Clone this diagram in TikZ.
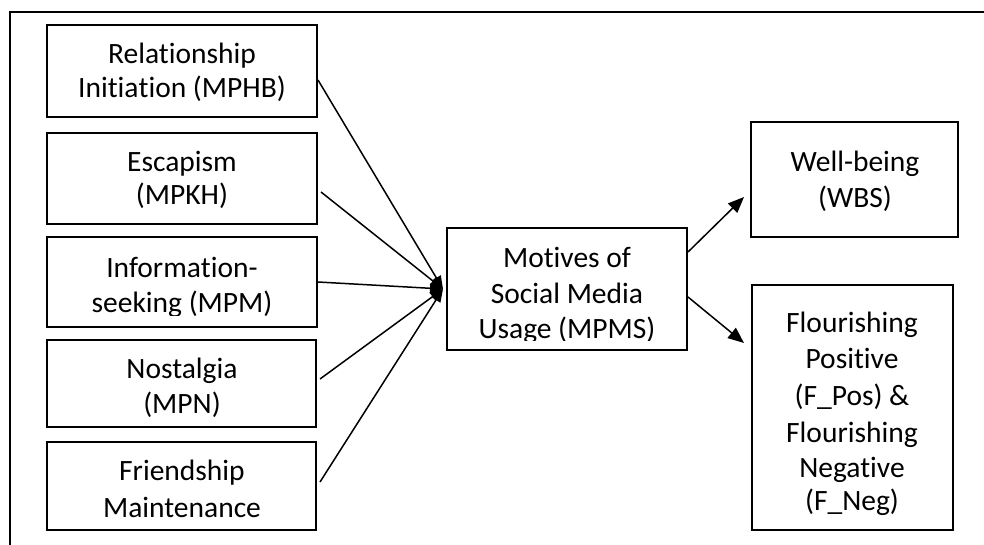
\documentclass[tikz,border=0pt]{standalone}
\usepackage{fontspec}
\setmainfont[RawFeature={-liga;-clig;-dlig;-calt}]{Carlito}
\usetikzlibrary{arrows.meta}
\newcommand{\nolig}{\kern0pt }
\begin{document}
\begin{tikzpicture}[x=1pt,y=-1pt,
  boxnode/.style={draw=black,line width=2pt,rectangle,inner sep=0pt},
  txt/.style={anchor=base,inner sep=0pt,font=\fontsize{29.5}{35}\selectfont},
  inarrow/.style={line width=1.5pt,-{Triangle[length=13pt,width=10pt]}},
  outarrow/.style={line width=1.5pt,-{Triangle[length=16pt,width=13pt]}},
  frameline/.style={line width=2.5pt}]
\useasboundingbox (0,0) rectangle (984,545);
% frame
\coordinate (fr1) at (984,12);
\coordinate (fr2) at (10,12);
\coordinate (fr3) at (10,545);
\draw[frameline] (fr1) -- (fr2) -- (fr3);
% boxes
\node[boxnode,minimum width=270pt,minimum height=92pt] (b1) at (182,71) {};
\node[boxnode,minimum width=270pt,minimum height=91pt] (b2) at (182,178.5) {};
\node[boxnode,minimum width=270pt,minimum height=90pt] (b3) at (182,282) {};
\node[boxnode,minimum width=269pt,minimum height=87pt] (b4) at (181.5,383.5) {};
\node[boxnode,minimum width=269pt,minimum height=88pt] (b5) at (181.5,486) {};
\node[boxnode,minimum width=240pt,minimum height=122pt] (c) at (567,289) {};
\node[boxnode,minimum width=207pt,minimum height=115pt] (wb) at (854.5,179.5) {};
\node[boxnode,minimum width=201pt,minimum height=245pt] (fl) at (852.5,407.5) {};
% texts
\node[txt] (t1a) at (182,64) {Relationship};
\node[txt] (t1b) at (182,98) {Init\nolig ia\nolig t\nolig ion (MPHB)};
\node[txt] (t2a) at (182,172) {Escapism};
\node[txt] (t2b) at (182,205) {(MPKH)};
\node[txt] (t3a) at (182,277) {Informa\nolig t\nolig ion-};
\begin{scope}
\clip (47,237) rectangle (317,315);
\node[txt] (t3b) at (182,312) {seeking (MPM)};
\end{scope}
\node[txt] (t4a) at (182,378) {Nostalgia};
\node[txt] (t4b) at (182,413) {(MPN)};
\node[txt] (t5a) at (182,480) {Friendship};
\node[txt] (t5b) at (182,517) {Maintenance};
\node[txt] (tca) at (567,267) {Mot\nolig ives of};
\node[txt] (tcb) at (567,303) {Social Media};
\begin{scope}
\clip (447,228) rectangle (687,340);
\node[txt] (tcc) at (567,338) {Usage (MPMS)};
\end{scope}
\node[txt] (twa) at (855,172) {Well-being};
\node[txt] (twb) at (855,208) {(WBS)};
\node[txt] (tfa) at (852,332) {Flourishing};
\node[txt] (tfb) at (852,368) {Posit\nolig ive};
\node[txt] (tfc) at (852,405) {(F\_Pos) \&};
\node[txt] (tfd) at (852,442) {Flourishing};
\node[txt] (tfe) at (852,477) {Negat\nolig ive};
\node[txt] (tff) at (852,510) {(F\_Neg)};
% connectors
\draw[inarrow] ([yshift=-9pt]b1.east) -- ([xshift=-3pt]c.west);
\draw[inarrow] ([xshift=3pt,yshift=-13.5pt]b2.east) -- ([xshift=-3pt]c.west);
\draw[inarrow] (b3.east) -- ([xshift=-3pt]c.west);
\draw[inarrow] ([xshift=3pt,yshift=4.5pt]b4.east) -- ([xshift=-3pt]c.west);
\draw[inarrow] ([xshift=3pt,yshift=4pt]b5.east) -- ([xshift=-3pt]c.west);
\draw[outarrow] ([yshift=37pt]c.east) -- ([xshift=-6pt,yshift=-17.5pt]wb.west);
\draw[outarrow] ([yshift=-8pt]c.east) -- ([xshift=-7pt,yshift=64.5pt]fl.west);
\end{tikzpicture}
\end{document}
